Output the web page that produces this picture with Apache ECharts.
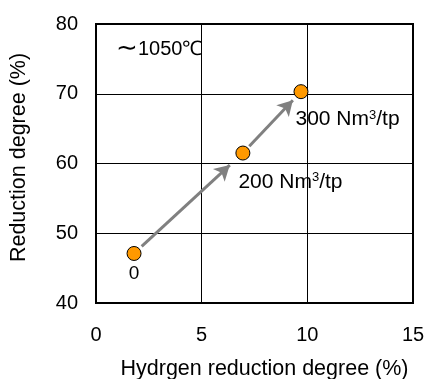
<!DOCTYPE html>
<html><head><meta charset="utf-8">
<script src="https://cdn.jsdelivr.net/npm/echarts@6/dist/echarts.min.js"></script>
<style>html,body{margin:0;padding:0;background:#fff}#c{width:425px;height:379px}</style>
</head><body><div id="c"></div>
<script>
// Data
const xValues = [1.8, 6.95, 9.7];
const yValues = [47.1, 61.5, 70.3];
const pointLabels = ['{z|0}', '200 Nm{sup|3}/tp', '300 Nm{sup|3}/tp'];
const xTicks = [0, 5, 10, 15];
const yTicks = [40, 50, 60, 70, 80];
const annotation = '{t|\u223C}1050\u2103';

const FONT = 'Liberation Sans, Arial, sans-serif';
const chart = echarts.init(document.getElementById('c'), null, {renderer: 'canvas'});

const labelCfg = [
  {position: 'bottom', distance: 3, offset: [0, 0]},
  {position: 'right', distance: 0, offset: [-12, 29]},
  {position: 'right', distance: 0, offset: [-13, 28]}
];

const pts = xValues.map((x, i) => ({
  value: [x, yValues[i]],
  label: Object.assign({show: true, formatter: pointLabels[i]}, labelCfg[i])
}));

function along(i, t) {
  return [xValues[i] + (xValues[i+1]-xValues[i])*t, yValues[i] + (yValues[i+1]-yValues[i])*t];
}
const arrowSegs = [[0, 0.07, 0.88], [1, 0.11, 0.86]].map(([i, a, b]) => [
  {coord: along(i, a)}, {coord: along(i, b)}
]);

chart.setOption({
  animation: false,
  grid: {left: 96, right: 12, top: 24, bottom: 76, show: true, borderColor: '#000', borderWidth: 2,
         containLabel: false, outerBoundsMode: 'none'},
  xAxis: {
    type: 'value', min: xTicks[0], max: xTicks[xTicks.length-1], interval: 5,
    name: 'Hydrgen reduction degree (%)', nameLocation: 'middle', nameGap: 55,
    nameTextStyle: {fontFamily: FONT, fontSize: 21.5, color: '#000', padding: [0, 0, 0, 20]},
    axisLine: {show: false}, axisTick: {show: false},
    axisLabel: {fontFamily: FONT, fontSize: 20, color: '#000', margin: 22},
    splitLine: {show: true, lineStyle: {color: '#000', width: 1}}
  },
  yAxis: {
    type: 'value', min: yTicks[0], max: yTicks[yTicks.length-1], interval: 10,
    name: 'Reduction degree (%)', nameLocation: 'middle', nameGap: 66,
    nameTextStyle: {fontFamily: FONT, fontSize: 21.5, color: '#000', padding: [0, 0, 0, 12]},
    axisLine: {show: false}, axisTick: {show: false},
    axisLabel: {fontFamily: FONT, fontSize: 20, color: '#000', margin: 18},
    splitLine: {show: true, lineStyle: {color: '#000', width: 1}}
  },
  graphic: [{
    type: 'text', left: 116, top: 36,
    style: {
      text: annotation, font: '20px ' + FONT, fill: '#000',
      rich: {t: {fontSize: 26, fontFamily: FONT, fill: '#000'}}
    }
  }],
  series: [{
    type: 'scatter',
    symbol: 'circle', symbolSize: 14,
    itemStyle: {color: '#FF9900', borderColor: '#000', borderWidth: 1, opacity: 1},
    label: {
      color: '#000', fontFamily: FONT, fontSize: 21,
      rich: {
        sup: {fontSize: 13, fontFamily: FONT, color: '#000', padding: [0, 0, 9, 0]},
        z: {fontSize: 19, fontFamily: FONT, color: '#000'}
      }
    },
    data: pts,
    z: 3,
    markLine: {
      silent: true, symbol: ['none', 'arrow'], symbolSize: [13, 15],
      lineStyle: {color: '#808080', width: 3, type: 'solid'},
      label: {show: false},
      data: arrowSegs
    }
  }]
});
</script></body></html>
